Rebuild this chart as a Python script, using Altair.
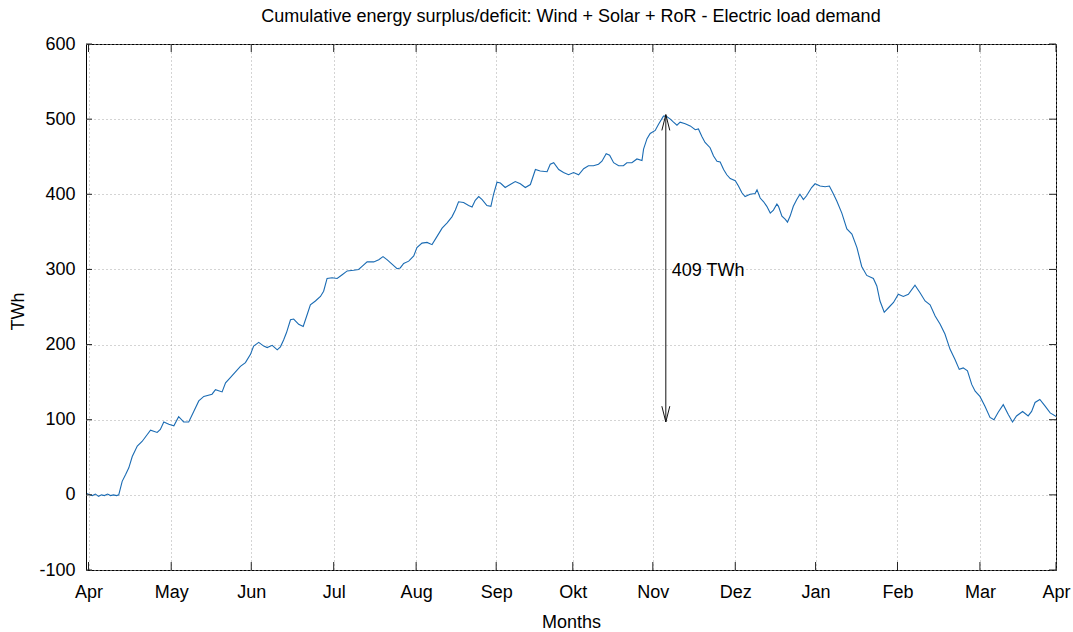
import json

import altair as alt
import pandas as pd

# Cumulative surplus/deficit over one year (day 0 = 1 April), in TWh
DAYS = [
    -0.5, 0.4, 1.5, 2.6, 3.8, 4.9, 6.0, 7.2, 8.3, 9.4, 10.6, 11.4,
    12.7, 14.0, 15.2, 16.5, 18.4, 20.2, 22.1, 23.4, 25.9, 27.1, 28.4, 30.3,
    32.2, 34.0, 35.9, 37.8, 39.7, 41.6, 43.5, 46.6, 47.9, 50.4, 51.7, 53.5,
    57.3, 59.2, 61.1, 62.3, 64.2, 66.1, 67.4, 69.3, 71.2, 72.4, 73.6, 74.7,
    76.2, 77.4, 79.3, 81.0, 82.5, 83.7, 85.6, 87.5, 88.7, 90.0, 91.9, 93.8,
    95.7, 97.6, 100.0, 101.9, 103.2, 105.1, 107.6, 109.5, 111.1, 112.6, 114.5, 116.4,
    117.6, 118.9, 120.8, 122.7, 123.9, 125.8, 127.7, 129.6, 131.5, 133.4, 135.3, 137.1,
    138.4, 139.6, 141.5, 143.4, 144.7, 145.9, 147.2, 148.5, 150.3, 151.8, 152.8, 154.1,
    155.4, 157.2, 159.1, 161.0, 162.9, 164.8, 166.7, 168.6, 170.4, 173.0, 174.2, 175.5,
    177.4, 179.2, 181.1, 183.0, 184.9, 186.8, 188.6, 190.5, 192.4, 193.7, 195.3, 196.6,
    198.1, 200.0, 201.8, 203.1, 205.0, 206.9, 208.8, 209.4, 210.7, 211.9, 213.8, 215.0,
    216.9, 217.9, 219.5, 220.7, 222.0, 223.2, 225.1, 227.0, 228.9, 230.1, 231.4, 232.6,
    234.5, 235.8, 237.1, 238.3, 239.6, 240.8, 242.1, 244.0, 245.2, 246.5, 247.7, 249.6,
    251.5, 252.2, 253.4, 254.7, 255.9, 257.2, 258.4, 259.7, 260.3, 261.6, 262.8, 263.7,
    264.7, 265.9, 267.2, 268.4, 269.7, 270.9, 272.8, 274.1, 276.0, 277.9, 279.5, 280.8,
    282.3, 284.2, 286.1, 288.0, 289.9, 291.7, 293.6, 296.1, 297.4, 298.6, 300.2, 301.8,
    303.7, 305.5, 307.4, 309.3, 311.8, 313.7, 315.6, 317.5, 319.4, 321.3, 323.1, 325.0,
    326.9, 328.5, 330.0, 331.6, 333.2, 334.5, 336.3, 338.2, 340.1, 341.6, 343.2, 345.1,
    347.0, 348.6, 350.1, 352.4, 354.5, 355.8, 357.1, 358.9, 360.9, 362.8, 365.3,
]
TWH = [
    2, 0, -1, 1, -2, 0, -1, 1, -1, 0, -1, 0,
    18, 27, 36, 51, 65, 71, 80, 86, 83, 87, 97, 94,
    92, 104, 97, 97, 111, 125, 131, 134, 140, 137, 149, 156,
    171, 176, 187, 198, 203, 198, 196, 199, 193, 197, 206, 216,
    233, 234, 227, 224, 240, 253, 258, 264, 271, 288, 289, 288,
    293, 298, 299, 300, 304, 310, 310, 313, 317, 313, 307, 301,
    302, 308, 311, 318, 329, 335, 336, 333, 344, 355, 362, 370,
    379, 390, 389, 385, 383, 392, 397, 393, 385, 384, 400, 416,
    415, 409, 413, 417, 414, 409, 413, 433, 431, 430, 440, 442,
    433, 429, 426, 429, 426, 434, 438, 438, 440, 444, 454, 452,
    442, 438, 438, 442, 442, 447, 445, 460, 474, 481, 485, 493,
    504, 504, 500, 496, 492, 496, 494, 491, 486, 487, 477, 469,
    462, 451, 444, 443, 433, 426, 421, 418, 411, 402, 397, 400,
    401, 406, 395, 390, 384, 375, 379, 387, 384, 371, 367, 363,
    371, 384, 393, 400, 393, 398, 409, 414, 411, 410, 411, 402,
    391, 375, 354, 347, 329, 304, 292, 288, 278, 258, 243, 249,
    256, 267, 264, 267, 279, 269, 258, 253, 238, 227, 214, 194,
    180, 167, 169, 165, 147, 138, 131, 118, 103, 100, 110, 120,
    107, 97, 105, 111, 105, 111, 123, 127, 118, 109, 104,
]

MONTH_TICKS = [0, 31.2, 61.4, 92.5, 123.6, 153.8, 182.7, 212.9, 244.0, 274.3, 305.2, 336.3, 365]
MONTH_LABELS = ["Apr", "May", "Jun", "Jul", "Aug", "Sep", "Okt", "Nov", "Dez", "Jan", "Feb", "Mar", "Apr"]
Y_TICKS = [-100, 0, 100, 200, 300, 400, 500, 600]

# Span between the peak surplus and the later low point
PEAK_DAY = 217.8
PEAK_TWH = 506
SPAN_TWH = 409
SPAN_LABEL = "409 TWh"

W, H = 970, 526
FONT = "Liberation Sans"
LINE_BLUE = "#1a6bb3"

x_scale = alt.Scale(domain=[-0.95, 365], nice=False, zero=False)
y_scale = alt.Scale(domain=[-100, 600], nice=False, zero=False)

x_label_expr = f"{json.dumps(MONTH_LABELS)}[indexof({json.dumps(MONTH_TICKS)}, datum.value)]"

x_axis = alt.Axis(
    values=MONTH_TICKS,
    labelExpr=x_label_expr,
    title="Months",
    titleX=W / 2,
    titleY=57,
    titleBaseline="alphabetic",
    labelPadding=13,
    labelFlush=False,
    labelOverlap=False,
)
y_axis = alt.Axis(
    values=Y_TICKS,
    labelExpr="datum.value + ''",
    title="TWh",
    titleX=-68,
    titleY=H / 2 + 4,
    titleAlign="center",
    titleBaseline="middle",
    labelPadding=11,
)

series = pd.DataFrame({"day": DAYS, "twh": TWH})

line = alt.Chart(series).mark_line(color=LINE_BLUE, strokeWidth=1.1, clip=True).encode(
    x=alt.X("day:Q", scale=x_scale, axis=x_axis),
    y=alt.Y("twh:Q", scale=y_scale, axis=y_axis),
)

# Inward tick marks on all four sides of the frame
y_tick_df = pd.DataFrame({"twh": Y_TICKS})
x_tick_df = pd.DataFrame({"day": MONTH_TICKS})
tick_color = "#222222"

y_ticks_left = alt.Chart(y_tick_df).mark_rule(color=tick_color, strokeWidth=1).encode(
    y=alt.Y("twh:Q", scale=y_scale, axis=y_axis), x=alt.value(0), x2=alt.value(6)
)
y_ticks_right = alt.Chart(y_tick_df).mark_rule(color=tick_color, strokeWidth=1).encode(
    y=alt.Y("twh:Q", scale=y_scale, axis=y_axis), x=alt.value(W - 7), x2=alt.value(W)
)
x_ticks_bottom = alt.Chart(x_tick_df).mark_rule(color=tick_color, strokeWidth=1).encode(
    x=alt.X("day:Q", scale=x_scale, axis=x_axis), y=alt.value(H - 8), y2=alt.value(H)
)
x_ticks_top = alt.Chart(x_tick_df).mark_rule(color=tick_color, strokeWidth=1).encode(
    x=alt.X("day:Q", scale=x_scale, axis=x_axis), y=alt.value(0), y2=alt.value(8)
)

# Double-headed arrow with open V heads
low = PEAK_TWH - SPAN_TWH
head_len = 21
head_half = 1.5
arrow_df = pd.DataFrame(
    {
        "day": [PEAK_DAY, PEAK_DAY, PEAK_DAY, PEAK_DAY, PEAK_DAY],
        "twh": [PEAK_TWH, PEAK_TWH, PEAK_TWH, low, low],
        "day2": [PEAK_DAY, PEAK_DAY - head_half, PEAK_DAY + head_half, PEAK_DAY - head_half, PEAK_DAY + head_half],
        "twh2": [low, PEAK_TWH - head_len, PEAK_TWH - head_len, low + head_len, low + head_len],
    }
)
arrow = alt.Chart(arrow_df).mark_rule(color="#111111", strokeWidth=1).encode(
    x=alt.X("day:Q", scale=x_scale, axis=x_axis),
    y=alt.Y("twh:Q", scale=y_scale, axis=y_axis),
    x2="day2:Q",
    y2="twh2:Q",
)

label_df = pd.DataFrame({"day": [PEAK_DAY], "twh": [(PEAK_TWH + low) / 2], "t": [SPAN_LABEL]})
label = alt.Chart(label_df).mark_text(
    align="left", baseline="middle", dx=6, dy=3, font=FONT, fontSize=18, color="black"
).encode(
    x=alt.X("day:Q", scale=x_scale, axis=x_axis),
    y=alt.Y("twh:Q", scale=y_scale, axis=y_axis),
    text="t:N",
)

chart = (
    alt.layer(line, y_ticks_left, y_ticks_right, x_ticks_bottom, x_ticks_top, arrow, label)
    .properties(
        width=W,
        height=H,
        autosize=alt.AutoSizeParams(type="none"),
        padding={"left": 86, "top": 44, "right": 17, "bottom": 62},
        title=alt.TitleParams(
            "Cumulative energy surplus/deficit: Wind + Solar + RoR - Electric load demand",
            font=FONT,
            fontSize=18,
            fontWeight="normal",
            color="black",
            anchor="middle",
            baseline="alphabetic",
            offset=4,
            dy=9,
        ),
    )
    .configure_view(stroke="black", strokeWidth=1)
    .configure_axis(
        labelFont=FONT,
        labelFontSize=18,
        labelColor="black",
        titleFont=FONT,
        titleFontSize=18,
        titleFontWeight="normal",
        titleColor="black",
        domain=False,
        ticks=False,
        tickSize=0,
        grid=True,
        gridColor="#a8a8a8",
        gridDash=[1, 3],
        gridWidth=1,
    )
)

chart.save("out.html", embed_options={"renderer": "svg", "actions": False})
